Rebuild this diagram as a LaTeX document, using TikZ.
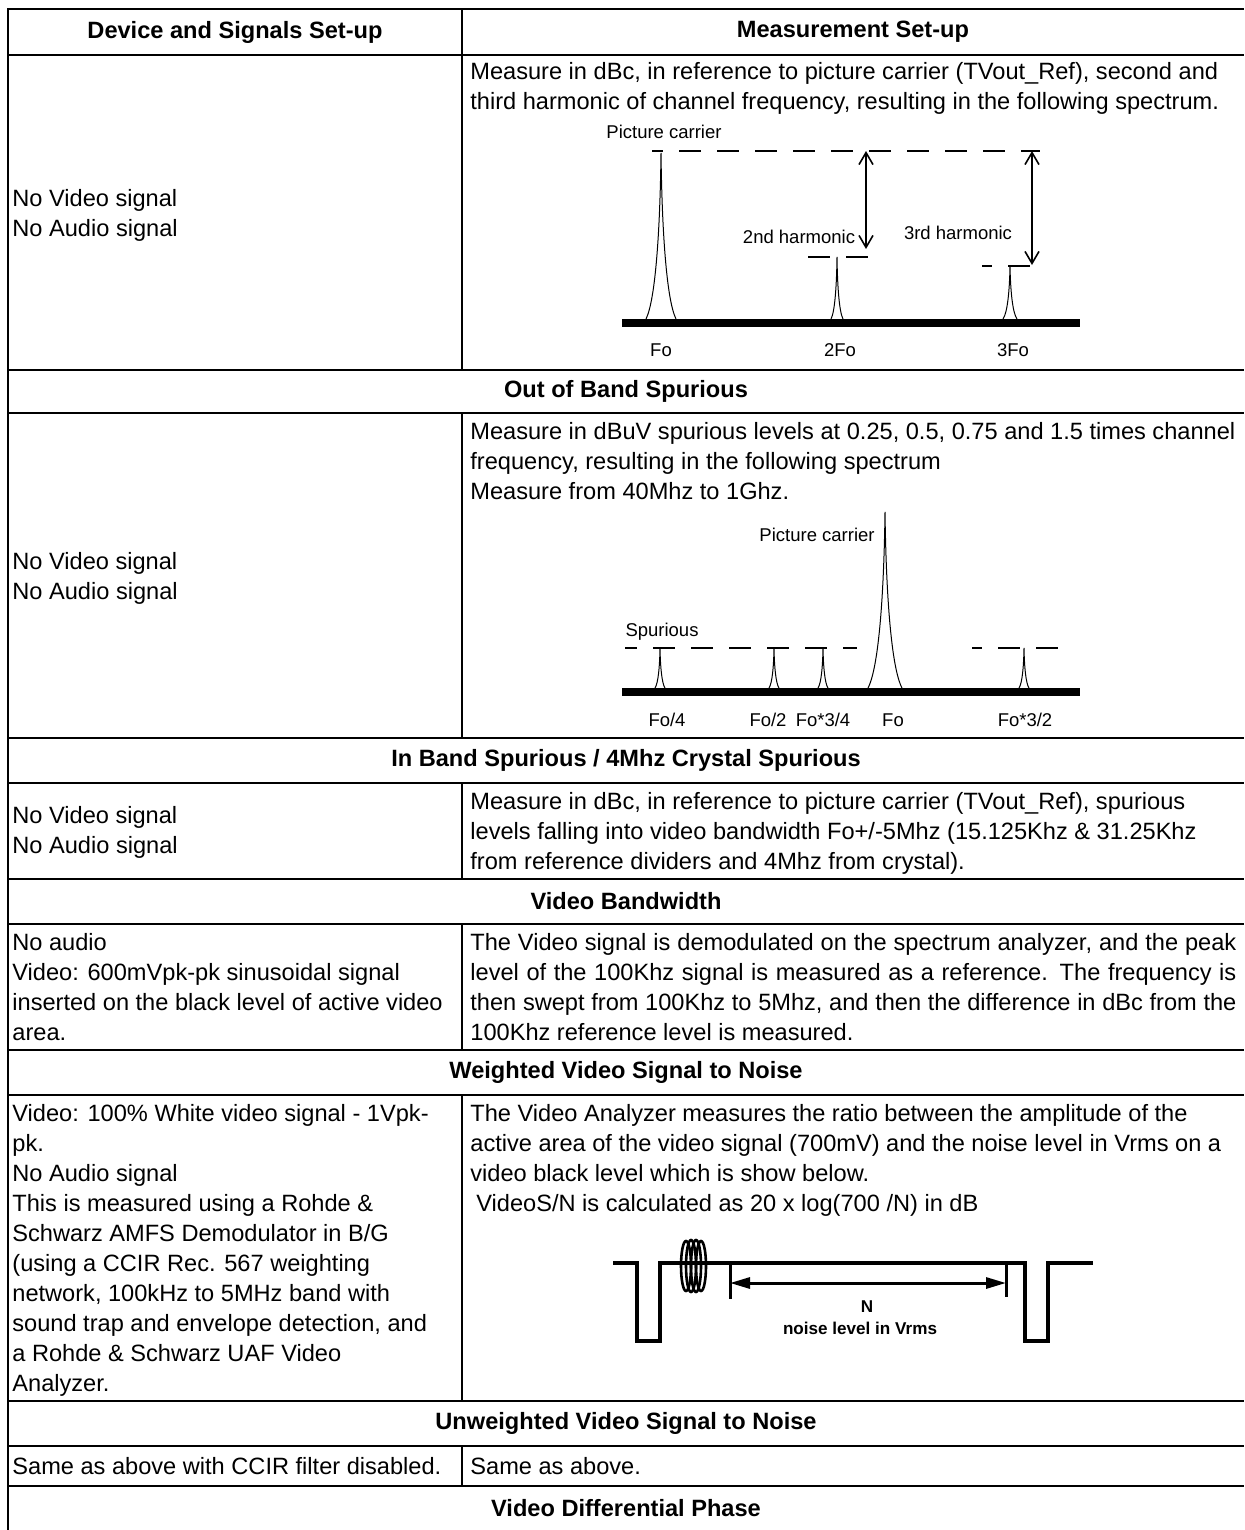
\documentclass[tikz,border=0pt]{standalone}
\usepackage{fontspec}
\setmainfont{Liberation Sans}
\usetikzlibrary{arrows.meta}

% one spectrum line: x, top, base, half width
\newcommand{\specpeak}[4]{%
  \draw[peakline] ({#1-#4},#3) .. controls ({#1-0.35*#4},{#3-0.12*(#3-#2)}) and ({#1-0.06*#4},{#2+0.45*(#3-#2)}) .. (#1,#2)
    .. controls ({#1+0.06*#4},{#2+0.45*(#3-#2)}) and ({#1+0.35*#4},{#3-0.12*(#3-#2)}) .. ({#1+#4},#3);}

\tikzset{
  rule/.style={line width=1pt},
  headtxt/.style={font=\bfseries\fontsize{11.8}{15}\selectfont, inner sep=0pt},
  celltxt/.style={font=\fontsize{11.8}{15}\selectfont, align=left, inner sep=0pt, anchor=north west},
  linetxt/.style={font=\fontsize{11.8}{15}\selectfont, inner sep=0pt, anchor=west},
  spectxt/.style={font=\fontsize{9.25}{11}\selectfont, inner sep=0pt},
  noisetxt/.style={font=\bfseries\fontsize{8.55}{10.5}\selectfont, inner sep=0pt},
  axisbar/.style={line width=4pt},
  peakline/.style={line width=0.5pt},
  lvl/.style={line width=1pt, dash pattern=on 11pt off 8pt},
  meas/.style={line width=0.8pt, {Straight Barb[length=6pt,width=7pt]}-{Straight Barb[length=6pt,width=7pt]}},
  sig/.style={line width=2pt},
  gateline/.style={line width=1.5pt},
  noisespan/.style={line width=1.5pt, {Triangle[length=10pt,width=5.5pt]}-{Triangle[length=10pt,width=5.5pt]}},
  burst/.style={line width=1.3pt}
}

\begin{document}
\begin{tikzpicture}[x=0.5pt,y=-0.5pt]
  \useasboundingbox (0,0) rectangle (1244,1530);

  % table rules
  \draw[rule] (8,1530) -- (8,9) -- (1244,9);
  \draw[rule] (8,55) -- (1244,55);
  \draw[rule] (8,370) -- (1244,370);
  \draw[rule] (8,413) -- (1244,413);
  \draw[rule] (8,738) -- (1244,738);
  \draw[rule] (8,783) -- (1244,783);
  \draw[rule] (8,879) -- (1244,879);
  \draw[rule] (8,924) -- (1244,924);
  \draw[rule] (8,1050) -- (1244,1050);
  \draw[rule] (8,1095) -- (1244,1095);
  \draw[rule] (8,1401) -- (1244,1401);
  \draw[rule] (8,1446) -- (1244,1446);
  \draw[rule] (8,1486) -- (1244,1486);
  \draw[rule] (462,9) -- (462,370);
  \draw[rule] (462,413) -- (462,738);
  \draw[rule] (462,783) -- (462,879);
  \draw[rule] (462,924) -- (462,1050);
  \draw[rule] (462,1095) -- (462,1401);
  \draw[rule] (462,1446) -- (462,1486);

  % headings
  \node[headtxt] (hdev) at (235,32) {Device and Signals Set-up};
  \node[headtxt] (hmeas) at (853,32) {Measurement Set-up};
  \node[headtxt] (hoob) at (626,391.5) {Out of Band Spurious};
  \node[headtxt] (hinb) at (626,760.5) {In Band Spurious / 4Mhz Crystal Spurious};
  \node[headtxt] (hvbw) at (626,901.5) {Video Bandwidth};
  \node[headtxt] (hwsn) at (626,1072.5) {Weighted Video Signal to Noise};
  \node[headtxt] (husn) at (626,1423.5) {Unweighted Video Signal to Noise};
  \node[headtxt] (hdph) at (626,1508.5) {Video Differential Phase};

  % harmonics
  \node[celltxt] (harmdev) at (12,189) {No Video signal\\No Audio signal};
  \node[celltxt] (harmtxt) at (470,62.5) {Measure in dBc, in reference to picture carrier (TVout\_Ref), second and\\third harmonic of channel frequency, resulting in the following spectrum.};
  \node[spectxt] (pc1) at (664,132) {Picture carrier};
  \draw[lvl, dash phase=5.5pt] (652,151) -- (1040,151);
  \draw[lvl] (808,257) -- (877,257);
  \draw[lvl, dash phase=6pt] (982,266) -- (1040,266);
  \specpeak{661}{153}{319}{15}
  \specpeak{837}{257}{319}{6}
  \specpeak{1010}{266}{319}{7}
  \draw[axisbar] (622,323) -- (1080,323);
  \coordinate (h2top) at (866,151);
  \coordinate (h2bot) at (866,249);
  \coordinate (h3top) at (1032,151);
  \coordinate (h3bot) at (1032,265);
  \draw[meas] (h2top) -- (h2bot);
  \draw[meas] (h3top) -- (h3bot);
  \node[spectxt] (h2lbl) at (799,237) {2nd harmonic};
  \node[spectxt] (h3lbl) at (958,233) {3rd harmonic};
  \node[spectxt] (fo1) at (661,350) {Fo};
  \node[spectxt] (fo2) at (840,350) {2Fo};
  \node[spectxt] (fo3) at (1013,350) {3Fo};

  % out of band spurious
  \node[celltxt] (oobdev) at (12,552) {No Video signal\\No Audio signal};
  \node[celltxt] (oobtxt) at (470,421.5) {Measure in dBuV spurious levels at 0.25, 0.5, 0.75 and 1.5 times channel\\frequency, resulting in the following spectrum\\Measure from 40Mhz to 1Ghz.};
  \node[spectxt, anchor=east] (pc2) at (875,535) {Picture carrier};
  \node[spectxt] (spur) at (662,632) {Spurious};
  \draw[lvl, dash phase=5pt] (625,648) -- (857,648);
  \draw[lvl, dash phase=6pt] (972,648) -- (1058,648);
  \specpeak{885}{512}{688}{17}
  \specpeak{660}{648}{688}{5}
  \specpeak{774}{648}{688}{5}
  \specpeak{823}{648}{688}{5}
  \specpeak{1024}{648}{688}{5}
  \draw[axisbar] (622,692) -- (1080,692);
  \node[spectxt] (fq4) at (667,720) {Fo/4};
  \node[spectxt] (fq2) at (768,720) {Fo/2};
  \node[spectxt] (fq34) at (823,720) {Fo*3/4};
  \node[spectxt] (fq1) at (893,720) {Fo};
  \node[spectxt] (fq32) at (1025,720) {Fo*3/2};

  % in band spurious
  \node[celltxt] (inbdev) at (12,806) {No Video signal\\No Audio signal};
  \node[celltxt] (inbtxt) at (470,791.5) {Measure in dBc, in reference to picture carrier (TVout\_Ref), spurious\\levels falling into video bandwidth Fo+/-5Mhz (15.125Khz \& 31.25Khz\\from reference dividers and 4Mhz from crystal).};

  % video bandwidth
  \node[celltxt] (vbwdev) at (12,932.5) {No audio\\Video: 600mVpk-pk sinusoidal signal\\inserted on the black level of active video\\area.};
  \node[celltxt] (vbwtxt) at (470,932.5) {\makebox[383pt][s]{The Video signal is demodulated on the spectrum analyzer, and the peak}\\\makebox[383pt][s]{level of the 100Khz signal is measured as a reference. The frequency is}\\\makebox[383pt][s]{then swept from 100Khz to 5Mhz, and then the difference in dBc from the}\\100Khz reference level is measured.};

  % weighted signal to noise
  \node[celltxt] (wsndev) at (12,1103.5) {Video: 100\% White video signal - 1Vpk-\\pk.\\No Audio signal\\This is measured using a Rohde \&\\Schwarz AMFS Demodulator in B/G\\(using a CCIR Rec. 567 weighting\\network, 100kHz to 5MHz band with\\sound trap and envelope detection, and\\a Rohde \& Schwarz UAF Video\\Analyzer.};
  \node[celltxt] (wsntxt) at (470,1103.5) {The Video Analyzer measures the ratio between the amplitude of the\\active area of the video signal (700mV) and the noise level in Vrms on a\\video black level which is show below.\\\hspace*{3pt}VideoS/N is calculated as 20 x log(700 /N) in dB};
  \draw[sig] (613,1263) -- (637,1263) -- (637,1341) -- (660,1341) -- (660,1263) -- (1025,1263)
    -- (1025,1341) -- (1048,1341) -- (1048,1263) -- (1093,1263);
  \draw[burst] (686,1266) ellipse (5 and 25);
  \draw[burst] (691,1266) ellipse (5 and 26);
  \draw[burst] (696,1266) ellipse (5 and 26);
  \draw[burst] (701,1266) ellipse (5 and 25);
  \coordinate (gl) at (730,1263);
  \coordinate (gr) at (1006,1263);
  \draw[gateline] (gl) -- (730,1299);
  \draw[gateline] (gr) -- (1006,1297);
  \coordinate (nl) at (730,1283);
  \coordinate (nr) at (1006,1283);
  \draw[noisespan] (nl) -- (nr);
  \node[noisetxt] (nlbl) at (867,1307) {N};
  \node[noisetxt] (nvlbl) at (860,1328) {noise level in Vrms};

  % unweighted signal to noise
  \node[linetxt] (usndev) at (12,1466) {Same as above with CCIR filter disabled.};
  \node[linetxt] (usntxt) at (470,1466) {Same as above.};
\end{tikzpicture}
\end{document}
